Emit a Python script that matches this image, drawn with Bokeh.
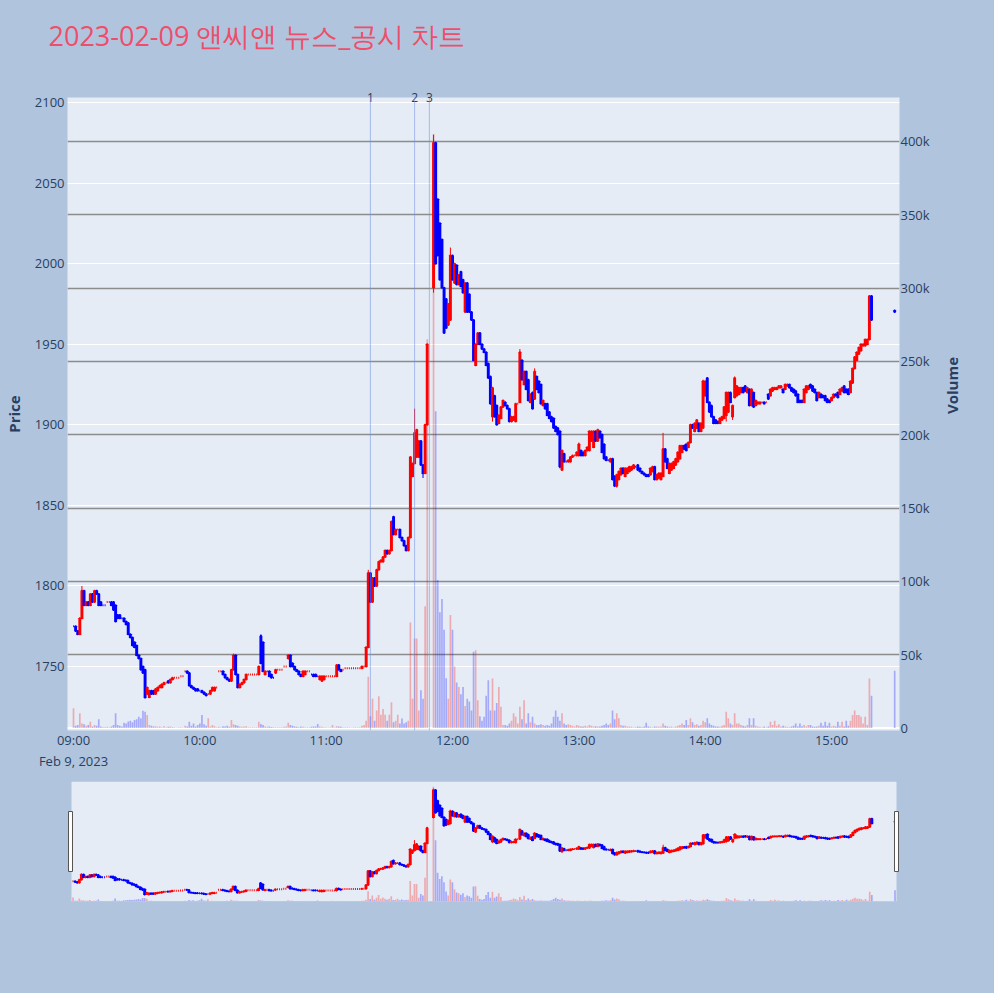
import math
import pandas as pd
from bokeh.plotting import figure
from bokeh.models import (ColumnDataSource, Range1d, LinearAxis, FixedTicker,
                          NumeralTickFormatter, DatetimeTickFormatter, Grid, Span,
                          BoxAnnotation)
from bokeh.layouts import column
from bokeh.embed import file_html
from bokeh.resources import INLINE

TITLE = "2023-02-09 앤씨앤 뉴스_공시 차트"
SESSION_START = "2023-02-09 09:00"

# one entry per minute from 09:00 to 15:30 (None = no trade)
OPEN = [
    1775, 1775, 1772, 1770, 1780, 1797, 1788, 1790, 1788, 1795,
    1790, 1797, 1795, 1790, 1788, 1788, 1790, 1790, 1790, 1790,
    1788, 1782, 1782, 1780, 1780, 1778, 1777, 1770, 1768, 1765,
    1763, 1757, 1755, 1750, 1748, 1733, 1731, 1735, 1735, 1733,
    1735, 1737, 1737, 1739, 1740, 1741, 1740, 1742, 1743, 1743,
    1743, 1744, 1744, 1747, 1747, 1746, 1738, 1737, 1736, 1736,
    1735, 1735, 1734, 1733, 1733, 1733, 1735, 1735, 1737, 1747,
    1747, 1747, 1745, 1743, 1742, 1741, 1748, 1757, 1745, 1737,
    1739, 1740, 1742, 1745, 1745, 1745, 1745, 1745, 1745, 1769,
    1765, 1745, 1747, 1747, 1745, 1743, 1746, 1748, 1748, 1748,
    1750, 1750, 1755, 1757, 1752, 1750, 1748, 1747, 1745, 1744,
    1745, 1747, 1747, 1745, 1745, 1745, 1744, 1742, 1741, 1742,
    1744, 1744, 1744, 1744, 1744, 1744, 1751, 1748, 1748, 1749,
    1749, 1749, 1749, 1749, 1749, 1749, 1749, 1749, 1750, 1750,
    1762, 1808, 1790, 1805, 1800, 1810, 1815, 1815, 1818, 1822,
    1820, 1822, 1843, 1832, 1835, 1835, 1830, 1828, 1825, 1822,
    1830, 1868, 1876, 1880, 1880, 1890, 1875, 1870, 1900, None,
    None, 1985, 2075, 2040, 2025, 2015, 1985, 1978, 1962, 1965,
    2005, 1988, 1999, 1987, 1995, 1990, 1970, 1988, 1981, 1970,
    1965, 1937, 1950, 1957, 1950, 1947, 1945, 1938, 1930, 1905,
    1918, 1912, 1901, 1904, 1911, 1914, 1912, 1910, 1902, 1903,
    1902, 1913, 1914, 1940, 1925, 1933, 1928, 1914, 1920, 1916,
    1930, 1927, 1925, 1912, 1913, 1913, 1908, 1905, 1904, 1899,
    1898, 1896, 1872, 1882, 1877, 1877, 1877, 1880, 1881, 1881,
    1881, 1884, 1883, 1881, 1884, 1884, 1890, 1886, 1896, 1890,
    1896, 1894, 1888, 1880, 1878, 1877, 1879, 1868, 1862, 1866,
    1869, 1873, 1868, 1870, 1871, 1872, 1873, 1874, 1875, 1873,
    1871, 1870, 1869, 1869, 1869, 1871, 1874, 1866, 1867, 1866,
    1868, 1885, 1879, 1870, 1872, 1873, 1875, 1877, 1879, 1883,
    1887, 1888, 1886, 1889, 1900, 1896, 1898, 1901, 1896, 1898,
    1918, 1929, 1914, 1912, 1905, 1903, 1902, 1901, 1903, 1904,
    1906, 1908, 1920, 1905, 1917, 1918, 1919, 1920, 1923, 1924,
    1920, 1922, 1912, 1920, 1912, 1913, 1913, 1914, 1914, 1914,
    1919, 1918, 1921, 1922, 1922, 1923, 1923, 1922, 1922, 1924,
    1925, 1923, 1922, 1921, 1919, 1915, 1915, 1914, 1920, 1922,
    1925, 1924, 1922, 1920, 1917, 1919, 1918, 1918, 1916, 1915,
    1915, 1917, 1919, 1920, 1919, 1921, 1924, 1922, 1922, 1920,
    1926, 1935, 1940, 1944, 1946, 1949, 1949, 1950, 1953, 1980,
    None, None, None, None, None, None, None, None, None, None,
    1971,
]
CLOSE = [
    1775, 1772, 1770, 1780, 1797, 1788, 1790, 1788, 1795, 1790,
    1797, 1795, 1788, 1788, 1788, 1788, 1790, 1790, 1788, 1785,
    1778, 1780, 1780, 1780, 1778, 1776, 1770, 1768, 1763, 1762,
    1757, 1755, 1748, 1746, 1731, 1737, 1735, 1733, 1733, 1736,
    1737, 1738, 1739, 1740, 1740, 1740, 1742, 1743, 1743, 1743,
    1743, 1744, 1744, 1747, 1746, 1738, 1737, 1736, 1735, 1735,
    1735, 1734, 1733, 1732, 1733, 1735, 1737, 1737, 1737, 1747,
    1747, 1745, 1743, 1742, 1741, 1748, 1757, 1745, 1737, 1739,
    1740, 1742, 1745, 1745, 1745, 1745, 1745, 1745, 1750, 1752,
    1747, 1747, 1747, 1744, 1743, 1743, 1748, 1748, 1748, 1748,
    1750, 1750, 1757, 1750, 1750, 1748, 1747, 1745, 1744, 1747,
    1747, 1747, 1747, 1745, 1744, 1744, 1744, 1744, 1744, 1744,
    1744, 1744, 1744, 1744, 1744, 1751, 1748, 1747, 1748, 1749,
    1749, 1749, 1749, 1749, 1749, 1749, 1749, 1750, 1750, 1762,
    1808, 1790, 1805, 1800, 1810, 1815, 1816, 1818, 1822, 1820,
    1822, 1840, 1832, 1835, 1835, 1830, 1828, 1825, 1822, 1830,
    1880, 1876, 1895, 1897, 1890, 1875, 1870, 1900, 1950, None,
    None, 2075, 2000, 2005, 1990, 1985, 1957, 1960, 1975, 2005,
    1990, 2000, 1987, 1993, 1986, 1982, 1988, 1970, 1970, 1965,
    1940, 1950, 1957, 1950, 1947, 1945, 1937, 1929, 1913, 1923,
    1905, 1900, 1906, 1911, 1915, 1912, 1910, 1902, 1905, 1905,
    1913, 1913, 1945, 1928, 1933, 1922, 1915, 1919, 1910, 1933,
    1922, 1920, 1913, 1915, 1910, 1906, 1904, 1902, 1898, 1896,
    1894, 1874, 1884, 1877, 1877, 1878, 1880, 1881, 1881, 1883,
    1888, 1881, 1881, 1884, 1886, 1896, 1896, 1896, 1890, 1897,
    1892, 1883, 1879, 1878, 1878, 1879, 1866, 1862, 1869, 1871,
    1873, 1870, 1873, 1873, 1874, 1874, 1875, 1874, 1872, 1871,
    1870, 1869, 1868, 1868, 1873, 1874, 1866, 1869, 1870, 1870,
    1885, 1877, 1873, 1876, 1876, 1877, 1879, 1883, 1887, 1887,
    1885, 1884, 1889, 1900, 1898, 1901, 1903, 1896, 1901, 1927,
    1927, 1914, 1908, 1905, 1901, 1901, 1901, 1904, 1905, 1911,
    1920, 1920, 1914, 1912, 1929, 1924, 1923, 1923, 1920, 1921,
    1923, 1912, 1922, 1911, 1915, 1914, 1914, 1914, 1913, 1914,
    1916, 1922, 1923, 1923, 1923, 1924, 1924, 1920, 1925, 1925,
    1923, 1921, 1920, 1918, 1914, 1914, 1914, 1922, 1924, 1924,
    1923, 1921, 1920, 1915, 1920, 1917, 1917, 1915, 1914, 1914,
    1917, 1919, 1918, 1917, 1922, 1923, 1920, 1920, 1919, 1927,
    1935, 1942, 1945, 1948, 1950, 1950, 1953, 1953, 1980, 1965,
    None, None, None, None, None, None, None, None, None, None,
    1970,
]
# wicks beyond the body (minute index -> price)
HIGH_WICK = {4: 1800, 76: 1758, 89: 1770, 140: 1810, 152: 1843, 162: 1910,
             171: 2080, 179: 2010, 212: 1947, 219: 1935, 240: 1889, 280: 1895,
             299: 1928, 314: 1930}
LOW_WICK = {34: 1730, 166: 1867, 171: 1982, 199: 1902, 231: 1873, 258: 1861,
            310: 1902, 313: 1903}
# volume in thousands of shares
VOLUME_K = [
    13.5, 1.5, 2, 10, 3, 2.5, 1.5, 2, 4.3, 1,
    2, 1.5, 6, 1, 0.5, 0.5, 0.8, 0.5, 1, 2,
    10, 2, 1.5, 1, 3.6, 3, 4.5, 5, 4, 5.4,
    6, 7.7, 6.5, 11.8, 11, 8.8, 2, 1.5, 1, 1.2,
    0.8, 1, 0.6, 1.2, 0.5, 0.8, 1, 0.7, 0.5, 0.4,
    0.5, 0.6, 0.4, 1.5, 1, 4.3, 1.5, 3, 1, 2,
    3, 8.8, 2.5, 1.5, 6.6, 1, 2, 1.2, 0.5, 0.8,
    0.6, 1.2, 1, 1.5, 0.8, 5.4, 2.5, 2, 1.5, 1,
    0.8, 1, 1.2, 0.6, 0.5, 0.5, 0.6, 0.5, 4.3, 2.7,
    2, 1, 0.8, 1, 0.7, 0.5, 0.6, 0.5, 0.5, 0.6,
    0.8, 1, 3.6, 2, 1.5, 1, 0.8, 0.6, 1, 0.8,
    0.6, 0.5, 0.5, 0.8, 1, 1, 2.7, 1, 0.8, 0.6,
    0.5, 0.4, 0.5, 2, 0.6, 1.2, 1, 0.8, 0.5, 0.6,
    0.5, 0.5, 0.4, 0.5, 0.5, 0.6, 0.5, 1.5, 2, 5,
    35, 8, 20, 5, 12, 21.6, 9, 13, 9, 5,
    9, 17.5, 4, 5, 9, 3, 6.5, 3, 4, 5,
    72, 20, 61, 61, 12, 25.7, 20, 83, 265, None,
    None, 405, 216, 101, 79, 88, 67, 34, 20, 77,
    67, 42, 31, 28, 23, 28, 15, 20, 18, 12,
    52, 53, 19, 8, 5, 7.7, 22, 32.6, 12, 33.8,
    12, 17, 28, 14.5, 2, 2, 1.5, 3, 5, 10,
    7.7, 3, 14.5, 6, 19, 3, 10, 4, 7.7, 3,
    2, 2, 2.5, 2, 1.5, 2, 1.5, 3, 7.7, 12,
    7.7, 5, 10, 3, 2, 2.5, 2, 1.5, 1, 2,
    1.5, 1, 1, 1.5, 1, 2, 1.5, 1, 1.2, 1,
    1, 1.5, 2, 3, 2, 3, 12, 6, 10, 6.6,
    2, 1.5, 1.5, 1, 1, 0.8, 0.6, 0.5, 1, 0.8,
    0.6, 1, 3.6, 1, 0.8, 0.6, 1, 1, 0.8, 1,
    3, 1.5, 1, 0.8, 1, 0.6, 1, 1.5, 2, 3,
    2, 5.4, 2, 6.6, 4, 2, 2.5, 1.5, 2, 5,
    4, 6.6, 3, 2, 1.5, 1, 1, 0.8, 1.5, 2,
    11, 6.6, 3, 2, 10, 3, 3, 2, 1.5, 1,
    2, 6.6, 2, 6.6, 1.5, 1, 0.8, 0.6, 1, 0.6,
    1, 4.3, 2, 5, 1.5, 2.5, 1, 1.5, 1, 0.8,
    0.6, 1, 1.5, 3, 1, 3, 1.2, 2, 1, 2,
    2, 1, 0.8, 1, 1.5, 3.5, 1.5, 4.3, 1.5, 3.5,
    1, 1.5, 1, 4.3, 1.5, 4.3, 1, 5, 1.5, 5,
    8.8, 12, 8.8, 8.8, 7.7, 3, 7.7, 2, 33.8, 22,
    None, None, None, None, None, None, None, None, None, None,
    39,
]
EVENT_TIMES = ["2023-02-09 11:21", "2023-02-09 11:42", "2023-02-09 11:49"]
EVENT_LABELS = ["1", "2", "3"]
HOUR_TICKS = ["09:00", "10:00", "11:00", "12:00", "13:00", "14:00", "15:00"]
PRICE_TICKS = [1750, 1800, 1850, 1900, 1950, 2000, 2050, 2100]
VOLUME_TICKS = [0, 50000, 100000, 150000, 200000, 250000, 300000, 350000, 400000]

assert len(OPEN) == len(CLOSE) == len(VOLUME_K) == 391

# ---------------------------------------------------------------------------
MIN = 60000.0
def ms(ts):
    return pd.Timestamp(ts).value / 1e6
T0 = ms(SESSION_START)

UP, DOWN = "#FF0000", "#0000FF"
rows = [i for i, o in enumerate(OPEN) if o is not None]
xs, tops, bots, highs, lows, cols, vols = [], [], [], [], [], [], []
prev_c, prev_up = None, True
for i in rows:
    o, c = OPEN[i], CLOSE[i]
    if c > o:
        up = True
    elif c < o:
        up = False
    elif prev_c is None or c == prev_c:
        up = prev_up
    else:
        up = c > prev_c
    prev_c, prev_up = c, up
    xs.append(T0 + i * MIN)
    tops.append(max(o, c))
    bots.append(min(o, c))
    highs.append(max(o, c, HIGH_WICK.get(i, 0)))
    lows.append(min(o, c, LOW_WICK.get(i, 10 ** 6)))
    cols.append(UP if up else DOWN)
    vols.append(VOLUME_K[i] * 1000)

src = ColumnDataSource(dict(x=xs, top=tops, bottom=bots, high=highs, low=lows,
                            color=cols, vol=vols))

FONT = "Open Sans"
TXT = "#2a3f5f"
PAGE_BG = "#B0C4DE"
PLOT_BG = "#E5ECF6"

X_START, X_END = T0 - 2.85 * MIN, T0 + 392.29 * MIN
Y_LO, Y_HI = 1710.3, 2103.1


def draw_series(fig):
    fig.vbar(x="x", width=0.8 * MIN, top="vol", bottom=0, source=src,
             y_range_name="vol", fill_color="color", fill_alpha=0.28, line_color=None)
    fig.segment(x0="x", y0="low", x1="x", y1="high", source=src,
                line_color="color", line_width=1)
    fig.vbar(x="x", width=0.45 * MIN, top="top", bottom="bottom", source=src,
             fill_color="color", line_color="color", line_width=2)


def plain_axis(ax):
    ax.axis_line_color = None
    ax.major_tick_line_color = None
    ax.minor_tick_line_color = None
    ax.major_tick_out = 0
    ax.minor_tick_out = 0
    ax.major_label_text_font = FONT
    ax.major_label_text_font_size = "13px"
    ax.major_label_text_color = TXT
    ax.axis_label_text_font = FONT
    ax.axis_label_text_font_size = "15px"
    ax.axis_label_text_font_style = "bold"
    ax.axis_label_text_color = TXT


# ---------------- main chart ----------------
p = figure(frame_width=832, frame_height=633, x_axis_type="datetime",
           x_range=Range1d(X_START, X_END), y_range=Range1d(Y_LO, Y_HI),
           output_backend="svg", toolbar_location=None,
           min_border_left=65, min_border_right=95, min_border_top=96, min_border_bottom=51,
           background_fill_color=PLOT_BG, border_fill_color=PAGE_BG,
           outline_line_color=None, title=TITLE)
p.extra_y_ranges = {"vol": Range1d(-1700, 429900)}

p.title.text_font = FONT
p.title.text_font_size = "27px"
p.title.text_font_style = "normal"
p.title.text_color = "#EE4E6A"
p.title.align = "left"
p.title.vertical_align = "top"
p.title.offset = -19
p.title.standoff = 33

p.xgrid.visible = False
p.ygrid.ticker = FixedTicker(ticks=PRICE_TICKS)
p.ygrid.grid_line_color = "white"
p.ygrid.grid_line_width = 1

vgrid = Grid(dimension=1, ticker=FixedTicker(ticks=VOLUME_TICKS[1:]), y_range_name="vol",
             grid_line_color="#8c8c8c", grid_line_width=1.3)
p.add_layout(vgrid)
p.add_layout(Span(location=0, dimension="width", y_range_name="vol",
                  line_color="white", line_width=2, level="underlay"))

draw_series(p)

# event markers: vertical lines plus numbered labels on an axis along the top edge
event_ms = [ms(t) for t in EVENT_TIMES]
for loc in event_ms:
    p.add_layout(Span(location=loc, dimension="height", line_color="#6f8fe6",
                      line_alpha=0.55, line_width=1))
ev_axis = LinearAxis(ticker=FixedTicker(ticks=event_ms),
                     major_label_overrides={loc: lab for loc, lab in zip(event_ms, EVENT_LABELS)})
plain_axis(ev_axis)
ev_axis.major_label_text_font_size = "12px"
ev_axis.major_label_standoff = -4
# blank axis title only reserves a little room between the markers and the chart title
ev_axis.axis_label = " "
ev_axis.axis_label_text_font_size = "10px"
ev_axis.axis_label_standoff = 0
p.add_layout(ev_axis, "above")

vol_axis = LinearAxis(y_range_name="vol", ticker=FixedTicker(ticks=VOLUME_TICKS),
                      formatter=NumeralTickFormatter(format="0a"), axis_label="Volume")
p.add_layout(vol_axis, "right")

p.yaxis[0].ticker = FixedTicker(ticks=PRICE_TICKS)
p.yaxis[0].axis_label = "Price"
p.below[0].ticker = FixedTicker(ticks=[ms(f"2023-02-09 {h}") for h in HOUR_TICKS])
p.below[0].formatter = DatetimeTickFormatter(
    hours="%H:%M", hourmin="%H:%M", minutes="%H:%M", minsec="%H:%M",
    context="%b %-d, %Y", context_which="start")

for ax in [p.below[0], p.yaxis[0], vol_axis]:
    plain_axis(ax)
p.yaxis[0].major_label_standoff = 3
p.yaxis[0].axis_label_standoff = 8
vol_axis.major_label_standoff = 1
vol_axis.axis_label_standoff = 19
try:
    vol_axis.axis_label_orientation = math.pi / 2
except AttributeError:
    pass
p.below[0].major_label_standoff = 0

# ---------------- range slider ----------------
s_start, s_end = T0 - 2.61 * MIN, T0 + 392.13 * MIN
s = figure(frame_width=832, frame_height=120, x_axis_type="datetime",
           x_range=Range1d(s_start, s_end), y_range=Range1d(1708, 2103),
           output_backend="svg", toolbar_location=None,
           min_border_left=64, min_border_right=96, min_border_top=0, min_border_bottom=92,
           background_fill_color=PAGE_BG, border_fill_color=PAGE_BG, outline_line_color=None)
s.extra_y_ranges = {"vol": Range1d(-1000, 424000)}
s.axis.visible = False
s.grid.visible = False


def sx(px):  # pixel column (relative to slider frame at 68) -> slider x value
    return s_start + (px - 68) / 832 * (s_end - s_start)


def sy(py):  # pixel row -> slider price value
    return 2103 - (py - 780) / 120 * (2103 - 1708)


s.add_layout(BoxAnnotation(left=sx(72), right=sx(897), fill_color=PLOT_BG, fill_alpha=1,
                           line_color=None, level="underlay"))
draw_series(s)
for a, b in ((69, 73), (895, 899)):
    s.add_layout(BoxAnnotation(left=sx(a), right=sx(b), top=sy(810), bottom=sy(870),
                               fill_color="white", fill_alpha=1, line_color="#555555",
                               line_width=1, line_alpha=1))

layout = column(p, s, spacing=0, styles={"background-color": PAGE_BG})
open("out.html", "w").write(file_html(layout, INLINE))
